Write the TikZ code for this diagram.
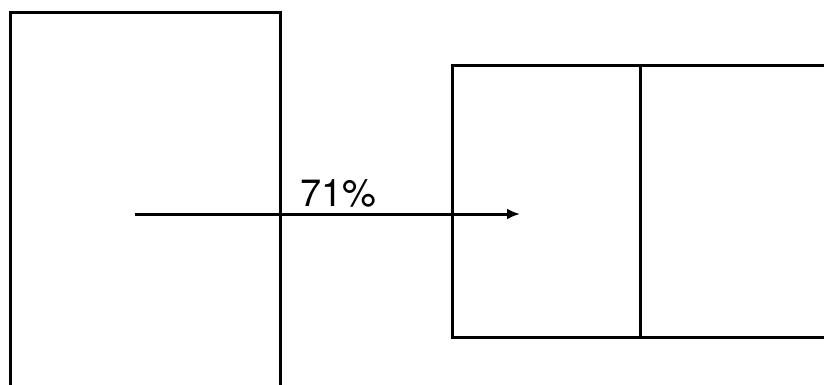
\documentclass[tikz,border=0pt]{standalone}
\usepackage{fontspec}
\setmainfont{TeX Gyre Heros}
\usetikzlibrary{arrows.meta,positioning}

\begin{document}
\begin{tikzpicture}[
      x=1pt,y=-1pt,
      cell/.style={draw,line width=3pt,outer sep=0pt,inner sep=0pt},
      arr/.style={-{Latex[length=13pt,width=11pt]},line width=3pt}
    ]
    \useasboundingbox (0,0) rectangle (824,385);
    \clip (0,0) rectangle (824,385);
    \node[cell,minimum width=270pt,minimum height=407pt] (src) at (145,216.5) {};
    \node[cell,minimum width=188pt,minimum height=271pt] (dstA) at (546,201.5) {};
    \node[cell,minimum width=200pt,minimum height=271pt,right=0pt of dstA] (dstB) {};

    \coordinate (from) at (135,214);
    \coordinate (to) at (520,214);
    \draw[arr] (from) -- (to);
    \node[anchor=base west,inner sep=0pt,font=\fontsize{38pt}{44pt}\selectfont] (pct) at (300,206) {71\%};
  \end{tikzpicture}
\end{document}
